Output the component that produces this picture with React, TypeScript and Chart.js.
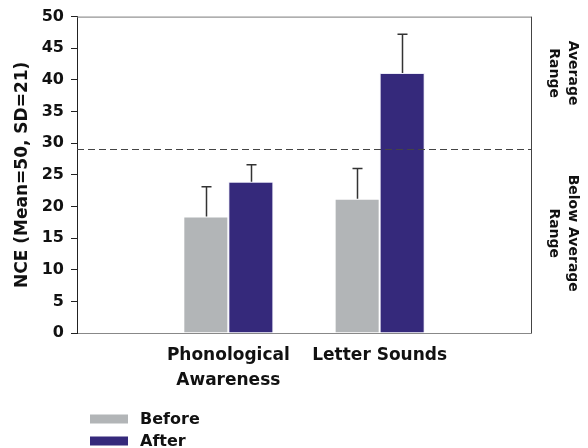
import React, { useEffect, useRef } from "react";
import { Chart, registerables } from "chart.js";

Chart.register(...registerables);

const categories: (string | string[])[] = ["", ["Phonological", "Awareness"], "Letter Sounds", ""];
const beforeValues: (number | null)[] = [null, 18.4, 21.2, null];
const afterValues: (number | null)[] = [null, 23.9, 41.1, null];
const beforeErrors: (number | null)[] = [null, 4.7, 4.8, null];
const afterErrors: (number | null)[] = [null, 2.7, 6.1, null];
const seriesLabels = ["Before", "After"];
const seriesColors = ["#b2b5b7", "#35297b"];
const averageCutoff = 29;
const yTickValues = [0, 5, 10, 15, 20, 25, 30, 35, 40, 45, 50];
const yTitle = "NCE (Mean=50, SD=21)";
const rangeLabels = [["Average", "Range"], ["Below Average", "Range"]];

const FONT = "'DejaVu Sans', Arial, sans-serif";

const extrasPlugin = {
  id: "extras",
  afterDatasetsDraw(chart: any) {
    const ctx = chart.ctx;
    const area = chart.chartArea;
    const y = chart.scales.y;
    const errs = [beforeErrors, afterErrors];
    ctx.save();
    // frame top and right
    ctx.strokeStyle = "#7a7a7a";
    ctx.lineWidth = 1;
    ctx.beginPath();
    ctx.moveTo(area.left, area.top + 0.5);
    ctx.lineTo(area.right, area.top + 0.5);
    ctx.stroke();
    ctx.strokeStyle = "#444";
    ctx.beginPath();
    ctx.moveTo(area.right + 0.5, area.top);
    ctx.lineTo(area.right + 0.5, area.bottom);
    ctx.stroke();
    // dashed cutoff line
    const yc = Math.round(y.getPixelForValue(averageCutoff)) + 0.5;
    ctx.strokeStyle = "#444";
    ctx.setLineDash([7, 4]);
    ctx.beginPath();
    ctx.moveTo(area.left, yc);
    ctx.lineTo(area.right, yc);
    ctx.stroke();
    ctx.setLineDash([]);
    // error bars
    ctx.strokeStyle = "#333";
    ctx.lineWidth = 1.5;
    chart.data.datasets.forEach((ds: any, di: number) => {
      const meta = chart.getDatasetMeta(di);
      meta.data.forEach((bar: any, i: number) => {
        const v = ds.data[i];
        const e = errs[di][i];
        if (v == null || e == null) return;
        const x = Math.round(bar.x) + 0.5;
        const yTop = y.getPixelForValue(v + e);
        const yBar = y.getPixelForValue(v);
        ctx.beginPath();
        ctx.moveTo(x, yBar);
        ctx.lineTo(x, yTop);
        ctx.moveTo(x - 5, yTop);
        ctx.lineTo(x + 5, yTop);
        ctx.stroke();
      });
    });
    // range labels rotated clockwise
    ctx.fillStyle = "#111";
    ctx.font = "bold 14px " + FONT;
    ctx.textAlign = "center";
    ctx.textBaseline = "middle";
    const centers = [
      (area.top + y.getPixelForValue(averageCutoff)) / 2 - 10,
      (y.getPixelForValue(averageCutoff) + area.bottom) / 2 - 8,
    ];
    rangeLabels.forEach((lines, k) => {
      ctx.save();
      ctx.translate(area.right + 32, centers[k]);
      ctx.rotate(Math.PI / 2);
      lines.forEach((line, li) => {
        ctx.fillText(line, 0, (li - (lines.length - 1) / 2) * 19);
      });
      ctx.restore();
    });
    // legend
    ctx.font = "bold 16px " + FONT;
    ctx.textAlign = "left";
    chart.data.datasets.forEach((ds: any, di: number) => {
      const cy = 419 + di * 22;
      ctx.fillStyle = ds.backgroundColor;
      ctx.fillRect(90, cy - 4.5, 38, 9);
      ctx.fillStyle = "#111";
      ctx.fillText(ds.label, 140, cy + 1);
    });
    ctx.restore();
  },
};

export default function App() {
  const ref = useRef<HTMLCanvasElement>(null);
  useEffect(() => {
    if (!ref.current) return;
    const chart = new Chart(ref.current, {
      type: "bar",
      data: {
        labels: categories,
        datasets: [
          {
            label: seriesLabels[0],
            data: beforeValues,
            backgroundColor: seriesColors[0],
            borderColor: "rgba(255,255,255,0.7)",
            borderWidth: 1,
          },
          {
            label: seriesLabels[1],
            data: afterValues,
            backgroundColor: seriesColors[1],
            borderColor: "rgba(230,230,245,0.8)",
            borderWidth: 1,
          },
        ],
      },
      options: {
        responsive: false,
        animation: false,
        layout: { padding: { top: 16, right: 57, left: 0, bottom: 0 } },
        plugins: { legend: { display: false }, tooltip: { enabled: false } },
        datasets: { bar: { categoryPercentage: 0.595, barPercentage: 1 } },
        scales: {
          x: {
            offset: false,
            grid: { display: false, drawTicks: false },
            border: { display: true, color: "#888", width: 1 },
            ticks: {
              autoSkip: false,
              maxRotation: 0,
              padding: 11,
              color: "#111",
              font: { family: FONT, size: 17, weight: "bold", lineHeight: 1.42 },
            },
            afterFit: (s: any) => {
              s.height = 115;
            },
          },
          y: {
            min: 0,
            max: 50,
            afterBuildTicks: (s: any) => {
              s.ticks = yTickValues.map((v) => ({ value: v }));
            },
            grid: { drawOnChartArea: false, drawTicks: true, tickLength: 6, color: "#222" },
            border: { display: true, color: "#222", width: 1 },
            ticks: {
              padding: 7,
              color: "#111",
              font: { family: FONT, size: 16, weight: "bold" },
            },
            title: {
              display: true,
              text: yTitle,
              color: "#111",
              padding: { top: 12, bottom: 0 },
              font: { family: FONT, size: 17, weight: "bold" },
            },
            afterFit: (s: any) => {
              s.width = 77;
            },
          },
        },
      },
      plugins: [extrasPlugin],
    });
    return () => chart.destroy();
  }, []);
  return (
    <div style={{ position: "absolute", left: 0, top: 0, width: 588, height: 448, background: "#fff" }}>
      <canvas ref={ref} width={588} height={448} />
    </div>
  );
}
